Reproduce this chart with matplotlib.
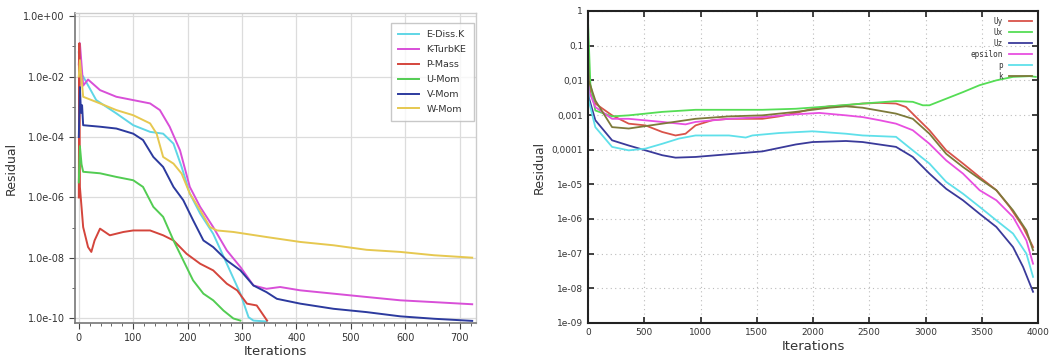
import numpy as np
import matplotlib
matplotlib.use("Agg")
import matplotlib.pyplot as plt
from matplotlib.ticker import FixedLocator, FixedFormatter, MultipleLocator

# ---------------- Left panel data (iterations, log10 residual) ----------------
L_names = ["E-Diss.K", "K-TurbKE", "P-Mass", "U-Mom", "V-Mom", "W-Mom"]
L_colors = ["#5fd6e6", "#d84fd8", "#d4453c", "#52cc52", "#2c3a9e", "#e6c850"]

ediss_x = [0, 3, 8, 32, 69, 100, 131, 155, 174, 189, 204, 223, 247, 272, 297, 312, 321, 345]
ediss_y = [-1.2, -1.9, -2.0, -2.78, -3.22, -3.61, -3.83, -3.89, -4.22, -4.99, -5.87, -6.53, -7.2, -8.19, -9.18, -9.96, -10.07, -10.1]

kturb_x = [0, 2, 8, 17, 39, 69, 100, 131, 149, 167, 186, 204, 223, 247, 272, 297, 321, 345, 370, 407, 468, 529, 591, 653, 723]
kturb_y = [-1.6, -0.9, -2.3, -2.1, -2.45, -2.67, -2.78, -2.89, -3.11, -3.66, -4.44, -5.65, -6.31, -6.98, -7.75, -8.3, -8.91, -9.02, -8.96, -9.07, -9.18, -9.29, -9.4, -9.46, -9.53]

pmass_x = [0, 1, 2, 8, 17, 23, 29, 39, 57, 82, 100, 131, 155, 174, 198, 223, 247, 272, 291, 309, 327, 346]
pmass_y = [-6.0, -0.9, -5.65, -6.98, -7.64, -7.8, -7.42, -7.03, -7.25, -7.14, -7.09, -7.09, -7.25, -7.42, -7.86, -8.19, -8.41, -8.85, -9.07, -9.51, -9.57, -10.07]

umom_x = [0, 2, 5, 8, 39, 69, 100, 118, 137, 155, 174, 192, 210, 229, 247, 266, 284, 297]
umom_y = [-5.5, -4.3, -4.9, -5.15, -5.2, -5.32, -5.43, -5.65, -6.31, -6.64, -7.42, -8.08, -8.74, -9.18, -9.4, -9.74, -10.0, -10.07]

vmom_x = [0, 2, 4, 6, 8, 39, 69, 100, 118, 137, 155, 174, 192, 210, 229, 247, 272, 297, 321, 345, 364, 407, 468, 529, 591, 653, 723]
vmom_y = [-4.0, -2.35, -3.2, -2.95, -3.61, -3.66, -3.72, -3.89, -4.1, -4.66, -4.99, -5.65, -6.09, -6.75, -7.42, -7.64, -8.08, -8.41, -8.91, -9.13, -9.35, -9.51, -9.68, -9.79, -9.93, -10.01, -10.08]

wmom_x = [0, 2, 8, 39, 69, 100, 131, 143, 155, 174, 189, 204, 223, 241, 254, 284, 346, 407, 468, 529, 591, 653, 723]
wmom_y = [-2.0, -1.46, -2.67, -2.89, -3.11, -3.28, -3.55, -3.89, -4.66, -4.88, -5.21, -5.87, -6.42, -6.98, -7.09, -7.14, -7.31, -7.47, -7.58, -7.73, -7.80, -7.91, -7.99]

L_x = [ediss_x, kturb_x, pmass_x, umom_x, vmom_x, wmom_x]
L_y = [ediss_y, kturb_y, pmass_y, umom_y, vmom_y, wmom_y]

L_xticks = [0, 100, 200, 300, 400, 500, 600, 700]
L_yticks = [0, -2, -4, -6, -8, -10]
L_ylabels = ["1.0e+00", "1.0e-02", "1.0e-04", "1.0e-06", "1.0e-08", "1.0e-10"]

# ---------------- Right panel data ----------------
R_names = ["Uy", "Ux", "Uz", "epsilon", "p", "k"]
R_colors = ["#d9534a", "#55dd55", "#3a3a9a", "#e84fe0", "#5fe0ea", "#7d7a3a"]

uy_x = [0, 21, 65, 214, 362, 511, 660, 778, 867, 956, 1105, 1253, 1402, 1550, 1699, 1847, 1996, 2144, 2293, 2441, 2590, 2738, 2827, 2916, 3035, 3184, 3333, 3481, 3630, 3748, 3867, 3956]
uy_y = [-1.5, -2.38, -2.67, -3.01, -3.25, -3.3, -3.49, -3.59, -3.54, -3.3, -3.15, -3.11, -3.11, -3.11, -3.04, -2.94, -2.82, -2.75, -2.72, -2.67, -2.65, -2.67, -2.77, -3.06, -3.44, -4.02, -4.4, -4.79, -5.17, -5.65, -6.23, -6.81]

ux_x = [0, 21, 65, 214, 362, 660, 956, 1253, 1550, 1847, 2144, 2441, 2738, 2887, 2976, 3035, 3184, 3333, 3481, 3630, 3778, 3926, 3980]
ux_y = [-0.3, -2.1, -2.87, -3.04, -3.01, -2.91, -2.85, -2.85, -2.85, -2.82, -2.75, -2.67, -2.6, -2.62, -2.72, -2.72, -2.53, -2.34, -2.14, -2.0, -1.9, -1.88, -1.9]

uz_x = [0, 6, 65, 214, 362, 511, 660, 778, 956, 1253, 1550, 1847, 1996, 2293, 2441, 2738, 2887, 3035, 3184, 3333, 3481, 3630, 3778, 3867, 3956]
uz_y = [-2.0, -2.48, -3.15, -3.73, -3.88, -4.02, -4.16, -4.23, -4.21, -4.13, -4.05, -3.85, -3.78, -3.75, -3.78, -3.92, -4.21, -4.69, -5.13, -5.46, -5.85, -6.23, -6.81, -7.38, -8.1]

eps_x = [0, 6, 65, 214, 362, 660, 867, 956, 1253, 1550, 1847, 2055, 2293, 2441, 2590, 2738, 2887, 3035, 3184, 3333, 3481, 3630, 3778, 3897, 3956]
eps_y = [-1.8, -2.29, -2.77, -3.11, -3.11, -3.2, -3.27, -3.2, -3.11, -3.06, -2.98, -2.94, -3.01, -3.06, -3.15, -3.25, -3.44, -3.83, -4.31, -4.69, -5.17, -5.46, -5.94, -6.62, -7.29]

p_x = [0, 6, 65, 214, 362, 511, 660, 808, 956, 1253, 1402, 1461, 1699, 1996, 2293, 2441, 2738, 2887, 3035, 3184, 3333, 3481, 3630, 3778, 3897, 3956]
p_y = [-1.7, -2.58, -3.35, -3.92, -4.02, -3.97, -3.83, -3.68, -3.59, -3.59, -3.65, -3.59, -3.52, -3.47, -3.54, -3.59, -3.63, -4.02, -4.4, -4.93, -5.27, -5.65, -6.04, -6.42, -7.0, -7.67]

k_x = [0, 6, 65, 214, 362, 660, 956, 1253, 1550, 1847, 2144, 2293, 2441, 2738, 2887, 3035, 3184, 3333, 3481, 3630, 3778, 3897, 3956]
k_y = [-1.0, -2.0, -2.58, -3.35, -3.39, -3.25, -3.11, -3.04, -3.01, -2.91, -2.79, -2.75, -2.79, -2.96, -3.11, -3.54, -4.12, -4.5, -4.84, -5.17, -5.75, -6.33, -6.9]

R_x = [uy_x, ux_x, uz_x, eps_x, p_x, k_x]
R_y = [uy_y, ux_y, uz_y, eps_y, p_y, k_y]

R_xticks = [0, 500, 1000, 1500, 2000, 2500, 3000, 3500, 4000]
R_yticks = [0, -1, -2, -3, -4, -5, -6, -7, -8, -9]
R_ylabels = ["1", "0,1", "0,01", "0,001", "0,0001", "1e-05", "1e-06", "1e-07", "1e-08", "1e-09"]

# ---------------- Figure ----------------
fig = plt.figure(figsize=(10.56, 3.58), dpi=100)

# Left panel
axL = fig.add_axes([75/1056, 1-323/358, (476-75)/1056, (323-13)/358])
for xs, ys, c, n in zip(L_x, L_y, L_colors, L_names):
    axL.plot(xs, 10**np.array(ys), color=c, lw=1.4, label=n)
axL.set_yscale("log")
axL.set_xlim(-7, 730)
axL.set_ylim(10**-10.15, 10**0.1)
axL.yaxis.set_major_locator(FixedLocator([10.0**v for v in L_yticks]))
axL.yaxis.set_major_formatter(FixedFormatter(L_ylabels))
axL.yaxis.set_minor_locator(FixedLocator([10.0**v for v in [-1, -3, -5, -7, -9]]))
axL.yaxis.set_minor_formatter(FixedFormatter([]))
axL.set_xticks(L_xticks)
axL.xaxis.set_minor_locator(MultipleLocator(20))
axL.grid(True, which="major", color="#dcdcdc", lw=0.9)
for s in ["top", "right"]:
    axL.spines[s].set_color("#cccccc")
    axL.spines[s].set_linewidth(1.0)
for s in ["left", "bottom"]:
    axL.spines[s].set_color("#777777")
    axL.spines[s].set_linewidth(1.2)
axL.tick_params(axis="both", which="major", labelsize=7, colors="#444444", length=4, width=0.8, labelcolor="#333333")
axL.tick_params(axis="both", which="minor", length=2.5, width=0.7, colors="#666666")
axL.set_xlabel("Iterations", fontsize=9.5, color="#333333", labelpad=1)
axL.set_ylabel("Residual", fontsize=9, color="#333333", labelpad=4)
legL = axL.legend(loc="upper right", fontsize=6.8, frameon=True, fancybox=False,
                  edgecolor="#bbbbbb", handlelength=2.2, labelspacing=0.62,
                  borderpad=0.8, borderaxespad=0.0, bbox_to_anchor=(0.995, 0.968))
for t in legL.get_texts():
    t.set_color("#333333")

# Right panel
axR = fig.add_axes([588/1056, 1-323/358, (1038-588)/1056, (323-11)/358])
for xs, ys, c, n in zip(R_x, R_y, R_colors, R_names):
    axR.plot(xs, 10**np.array(ys), color=c, lw=1.3, label=n)
axR.set_yscale("log")
axR.set_xlim(0, 4000)
axR.set_ylim(1e-9, 1)
axR.yaxis.set_major_locator(FixedLocator([10.0**v for v in R_yticks]))
axR.yaxis.set_major_formatter(FixedFormatter(R_ylabels))
axR.yaxis.set_minor_locator(FixedLocator([]))
axR.set_xticks(R_xticks)
axR.grid(True, which="major", color="#bbbbbb", lw=0.8, linestyle=(0, (1, 3)))
for s in axR.spines.values():
    s.set_color("#222222")
    s.set_linewidth(1.5)
axR.tick_params(axis="both", which="major", direction="in", top=True, right=True,
                labelsize=6.5, length=4, width=1.2, colors="#222222", labelcolor="#333333")
axR.set_xlabel("Iterations", fontsize=9.5, color="#333333", labelpad=2)
axR.set_ylabel("Residual", fontsize=9, color="#333333", labelpad=4)
legR = axR.legend(loc="upper right", frameon=False, markerfirst=False,
                  handlelength=3.0, labelspacing=0.25, borderpad=0.3,
                  prop={"family": "DejaVu Sans Mono", "size": 5.5})
for t in legR.get_texts():
    t.set_ha("right")
    t.set_color("#333333")
legR._legend_box.align = "right"

fig.savefig("out.png", dpi=100)
